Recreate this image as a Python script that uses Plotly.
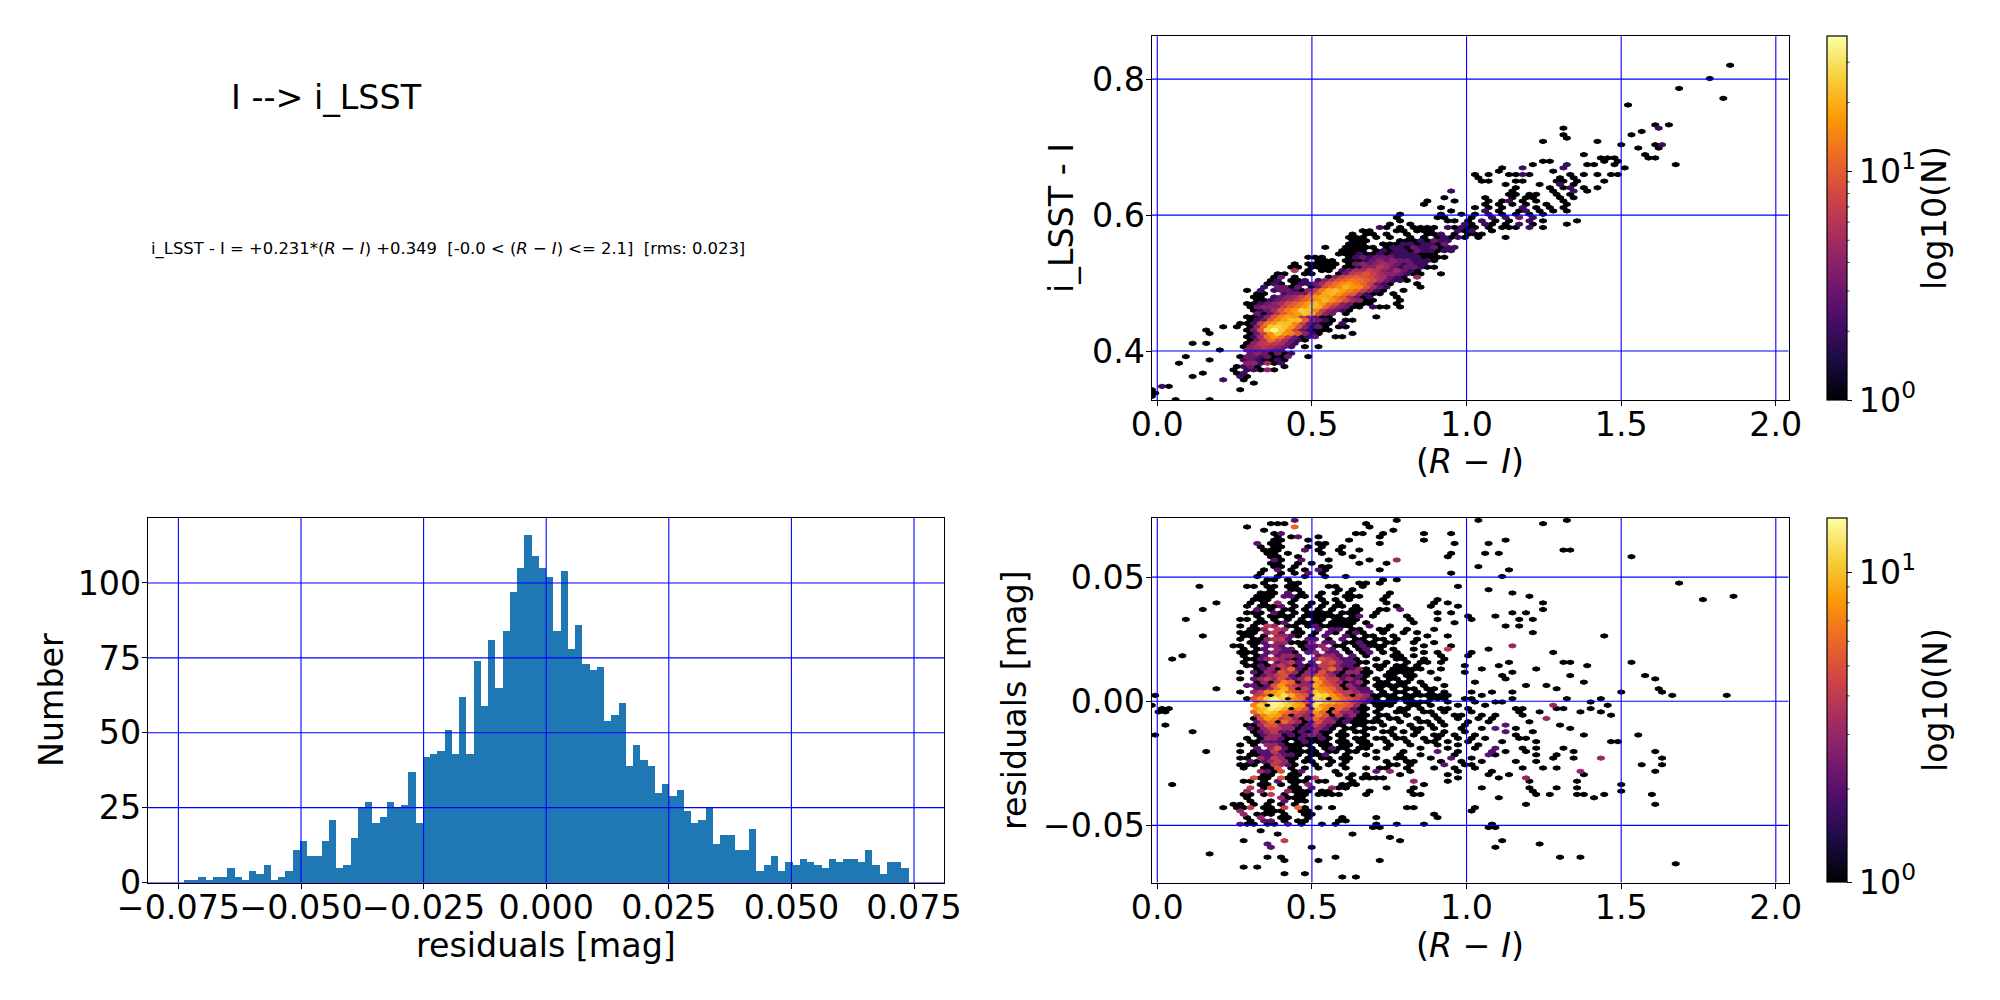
import math
import plotly.colors as pc
import plotly.graph_objects as go

# residual histogram, 100 bins
HIST_LOW = -0.0739
HIST_HIGH = 0.0739
HIST_COUNTS = [
    1, 1, 2, 1, 2, 2, 5, 2, 1, 4, 3, 6, 1, 2, 4, 11, 14, 9, 9, 14,
    21, 5, 6, 15, 25, 27, 20, 22, 27, 25, 26, 37, 20, 42, 43, 44, 51, 43, 62, 43,
    74, 59, 81, 65, 84, 97, 105, 116, 109, 105, 102, 84, 104, 78, 86, 73, 71, 72, 54, 56,
    60, 39, 46, 41, 39, 30, 33, 29, 31, 24, 20, 21, 25, 13, 16, 16, 11, 11, 18, 4,
    6, 9, 4, 7, 6, 8, 7, 6, 5, 8, 7, 8, 8, 7, 11, 6, 3, 7, 7, 5,
]

# hexbin cells: row -> "first_bin:counts" chunks, counts in base 36
BIN_STEP = 0.022
BIN_START_EVEN = -0.0177
BIN_START_ODD = -0.0067

TOP_ROW_ZERO = 0.4113
TOP_ROW_STEP = 0.00487
TOP_MAX = 39
TOP_CELLS = {
    -17: "3:1 8:1", -16: "0:1", -15: "0:1", -14: "0:1 13:1", -13: "1:21", -12: "15:1",
    -11: "10:2 13:1", -10: "6:1 13:21", -9: "7:1 12:12", -8: "12:1 14:22 16:1 17:41",
    -7: "12:123 15:1 19:1", -6: "4:1 14:44 16:2 17:51 19:2", -5: "8:1 13:23211 18:21",
    -4: "5:1 13:13323113 23:1", -3: "14:343131 20:2", -2: "10:1 14:444433",
    -1: "13:1 14:4565432 22:1 24:1", 0: "6:1 8:1 14:14676532",
    1: "14:136c85321", 2: "14:125chc63123 27:11", 3: "8:1 14:137fohe9421 24:1 29:1",
    4: "8:1 14:139pzof73211 26:1", 5: "10:1 12:1 14:14bornh94 23:231 27:11",
    6: "13:1 14:12 16:7dhnme73211 28:2", 7: "14:123 17:9eimma432 26:1 28:11",
    8: "14:11 16:249eig64311 33:1", 9: "15:3136aeink843 28:1",
    10: "15:12359dhpnf74321", 11: "14:134447adgnkb643 29:11 32:211 36:1",
    12: "14:112345 20:8adimhb843 29:2111 36:1", 13: "15:11234 20:57adhlgc854 29:4211 36:1",
    14: "15:11 18:23457bhjida5 30:312 36:1", 15: "15:11 19:2333 23:8bjlhca 30:42 32:11 35:1",
    16: "14:1 16:2 18:233214 24:7dkmieb7 32:42 34:1 37:1", 17: "16:2 18:331 21:3 23:13 25:8cflhf9 32:532 39:1",
    18: "17:121 21:122 24:35 26:9cfheb 32:732 35:1 39:1", 19: "17:12 20:112 24:246 27:9bdca8 33:53 35:221",
    20: "18:13 21:1 26:147 29:9a9 32:86 34:5321 39:5", 21: "18:11 22:11 27:136 30:7975 34:4 35:43211 42:1",
    22: "21:6 23:1 25:11 28:235 31:5764 35:3 36:5321", 23: "20:11 23:11 25:11 28:1124 32:4653 36:2 37:3321 41:1",
    24: "21:1 23:11 25:111 29:134 32:3454 36:32 38:3 39:22", 25: "24:111 28:111234 34:343322 40:21",
    26: "23:111 29:123233 35:322 38:2211 42:11", 27: "27:1112112 34:122 37:22111",
    28: "28:1111 33:12122132 41:2122", 29: "25:1 28:11111 34:122132 40:2312 44:2",
    30: "29:111 34:11122 39:12213", 31: "29:111 36:111213 41:12 43:2",
    32: "29:11 31:1 33:1 35:1 38:1 40:1 42:1 43:2121 48:1 52:1",
    33: "29:1 31:11 34:1 37:1 40:11 42:2 44:1 46:111", 34: "31:11 36:11 39:111 45:212 50:1",
    35: "33:21 36:1 38:1111 43:21211 49:1 51:111 55:2 57:1",
    36: "35:1 38:1 46:21 49:21 52:1 54:2 56:1 61:1", 37: "36:1 43:11 46:1 48:2 50:1 52:1 55:2 57:1 62:1",
    38: "36:1 42:11 47:1 50:2 52:2 54:3 56:2", 39: "36:1 42:1 45:1 47:1 49:2 51:1 53:1 55:1 57:1",
    40: "44:1 49:2 51:1 54:1 55:2 57:1 59:1 61:1", 41: "42:1 47:1 49:1 51:1 54:2 56:1 58:1 60:1",
    42: "40:1 49:1 51:1 53:1 55:1 58:1 61:1", 43: "40:1 44:1 49:1 51:1 52:2 54:1 56:1 60:1", 44: "43:1 49:1 53:1 55:11 60:1 62:1",
    45: "52:11 55:11 59:1 61:1", 46: "44:2 53:1 59:1 62:2 64:1", 47: "53:1 58:1 60:12 63:1 65:1",
    48: "52:1 57:1 60:2 62:1", 49: "48:11 53:11 59:11 62:1 66:1", 50: "48:1 60:1 62:1",
    51: "47:1 49:1 52:11 54:21 61:1 63:1 65:1 67:11", 52: "51:1 59:1", 53: "51:1 54:2 60:2 69:1",
    54: "56:1 61:2 64:11 68:1 77:1", 55: "57:11 66:1 68:1", 56: "66:111 73:11",
    57: "63:1 72:1", 59: "71:1 74:1", 60: "69:1 74:12", 61: "57:1 65:1", 62: "61:1",
    63: "60:1 70:1", 64: "72:1", 65: "60:1 74:2", 66: "74:1 76:1", 72: "70:1",
    74: "84:1", 77: "77:1", 80: "82:1", 84: "85:1",
}

RES_ROW_ZERO = 0.07285
RES_ROW_STEP = -0.00133
RES_MAX = 15
RES_CELLS = {
    0: "21:2 36:1 48:1 61:1", 1: "17:111 31:1 57:1", 2: "14:1 21:6 32:1", 3: "16:1 35:1",
    4: "18:12 30:11 34:1 40:1 44:1", 5: "18:1 20:12 24:1 33:1", 6: "18:11 23:1 29:1 40:1 52:1",
    7: "15:2 17:11 24:11 33:1 44:1 49:1", 8: "16:1 18:11 23:1 25:1 28:1",
    9: "16:11 18:1 22:2 24:1 27:1 30:1 60:11", 10: "17:11 20:1 25:1 28:1 44:1 49:1 51:1",
    11: "17:11 21:1 29:1 43:1 70:1", 12: "18:21 22:2 26:1 32:1 36:3", 13: "17:11 21:1 23:1 30:1 34:1",
    14: "18:11 21:1 25:11 48:1", 15: "16:1 18:2 20:1 22:1 24:21 33:1 52:1", 16: "16:1 19:1 21:1 23:2 25:1 44:1",
    17: "15:1 18:1 22:1 25:1 28:1 51:1", 18: "17:11 20:1 34:1 36:1", 19: "16:1 20:11 30:11 33:1 77:1",
    20: "7:1 14:11 17:11 20:11 26:11 31:1 45:1", 21: "17:1 20:11 27:1 29:1 49:1",
    22: "16:11 18:1 20:2 22:1 25:1 27:1 29:1 35:1 53:1", 23: "15:11 17:1 19:22 21:11 24:1 28:111 34:1 55:1 85:1",
    24: "15:11 17:1 21:1 25:1 27:1 29:1 34:1 42:1 81:1", 25: "9:1 14:1 16:1 18:3 20:1 23:1 25:1 27:1 34:1 41:1 43:1 57:1",
    26: "14:1 16:11 18:12 21:1 23:1 25:1 27:11 30:1 36:1 41:1 45:1", 27: "7:1 15:2 17:1 19:11 22:1 24:1 26:1 29:11 33:11 36:2 57:1",
    28: "14:11 16:1 18:21 21:1 23:111 26:1 28:111 33:1 42:1 44:1 53:1 55:1", 29: "15:1 17:111 20:1 22:111 25:111 29:12 32:1 37:1 50:1 46:1",
    30: "5:1 13:11 16:1 18:1 20:1 22:1 24:11 27:1111 30:1 38:1 42:1 47:1 54:1 56:1", 31: "15:11 18:12 21:111 24:1 26:1111 31:1 38:1 44:1",
    32: "13:1 15:1 17:43 20:11 23:12 25:111 28:11 32:2 35:1 52:1 54:1", 33: "14:11 16:3 18:4 19:3 21:1 24:2 26:22 29:11 33:11 37:1 41:1",
    34: "13:11 15:1 17:3 18:4 19:2 21:11 24:1 26:21 29:121 34:1 37:1 39:1 56:1", 35: "7:1 13:11 16:1 18:332 21:1 23:1 25:2 28:21 31:11 35:1 40:1 43:1 66:1",
    36: "13:1 15:11 17:344 20:2 23:22 26:1 28:2 30:11 33:11 36:1 39:1", 37: "14:11 16:2 18:33 20:111 23:3 25:22 28:112 31:11 34:11 38:1 41:1",
    38: "12:11 15:1 17:23 19:2 22:12 24:23 27:11 30:121 33:11 40:1 44:1 53:3", 39: "13:1 15:12 18:32 20:2 22:12 25:32 28:1 30:12 33:1 35:1 38:1 43:4 49:1",
    40: "13:11 15:1 17:2 18:3 19:22 21:1 23:23 26:22 29:1 31:12 34:1 36:1 40:1 42:1 47:1 59:1", 41: "4:1 13:1 15:12 18:2 19:33 21:2 24:23 26:32 29:2 31:1 35:11 38:1 42:1 46:1",
    42: "3:1 14:11 16:2 17:3 18:4 19:3 20:2 21:1 22:2 24:35 26:43 28:22 30:1 33:1 36:11 40:1 43:1",
    43: "13:1 15:1 16:1 18:23 20:4 21:2 23:2 25:45 27:32 29:21 31:1 34:1 37:1 39:11 42:1 52:1 60:11 70:1",
    44: "14:1 15:1213431212443221 33:11 36:11 39:1 46:1 51:1 64:1",
    45: "15:12314621324631231 33:1 35:111 38:11 42:1 48:1 56:1",
    46: "13:1 15:21325431325321331 32:1 35:111 38:1 41:1 46:1 53:1",
    47: "15:12345213354312121 34:11 37:11 51:1 61:1 72:1",
    48: "13:1 15:23435323596442321 33:1 35:11 38:1 42:1 52:1 74:1",
    49: "15:13147613285431231 33:11 36:11 39:1 47:1 63:1",
    50: "14:2 15:21258543396541321 33:111 36:11 40:1 43:1 55:1 58:1",
    51: "9:1 15:22369514387641322 33:1 35:1 37:11 40:11 59:1 74:1",
    52: "13:1 15:3478a6543a8754432 32:2 34:1 36:11 39:1 41:1 43:1 47:1 50:1 53:1 69:1 75:1",
    53: "0:1 15:4519c9652cb864143 32:11 34:11 37:111 40:1111 48:1 76:1 84:1",
    54: "14:1 15:57bdb1762ba186543 32:21 35:111 38:1 41:111 46:11 53:1 61:1 66:1",
    55: "15:68eeca853da976432 32:11 34:11 37:1111 43:1 47:1 50:11 64:1",
    56: "0:1 15:7b1edb982c8766531 33:11 35:1 38:11 41:1 45:1 49:1 59:3 67:1",
    57: "1:11 15:8adc91752a7164211 33:1 36:11 39:1 42:11 46:1 53:11 59:11 64:1",
    58: "1:11 15:69ba7654386153321 33:1 36:11 40:11 43:1 47:1 54:1 57:1 63:1 66:1",
    59: "15:47985143275142311 33:11 37:1 41:1 44:11 48:1 50:1 54:1 67:1",
    60: "15:15874531364321211 33:1 35:11 39:1 42:1 45:1 48:1 50:1 58:3",
    61: "15:24616431253312111 32:11 36:1 39:11 42:1 46:1 49:1 55:1",
    62: "2:1 14:1 15:13553321243211011 34:1 38:1 41:1 43:1 46:1 52:2 60:1",
    63: "14:2 15:13443312232101101 32:1 35:1 38:11 41:1 45:1 48:1 50:2 53:1 61:1",
    64: "6:1 15:12342212131101011 34:11 37:1 39:1 43:1 46:1 52:2 56:1",
    65: "0:1 15:12331212321011001 35:1 38:1 41:11 44:1 47:1 53:1 63:1 71:1",
    66: "14:1 15:01332112112101011 33:11 36:11 40:1 42:1 45:1 47:1 49:1 54:11",
    67: "14:1 15:12221012111011011 34:1 37:1 40:11 43:1 46:1 51:1 56:1 67:11",
    68: "13:1 15:10332111101101101 32:1 35:1 38:1 42:1 45:1 48:1",
    69: "15:20352110101211011 34:1 39:1 43:1 47:1 50:2 54:1 56:1 60:1",
    70: "8:1 13:1 15:12242111110110110 33:1 37:1 42:2 45:1 50:2 52:1 55:1 62:1 74:1",
    71: "14:1 15:12232210112001001 36:1 39:1 44:1 49:2 50:1 56:1 59:1",
    72: "13:1 14:1 15:03243110101101100 33:1 36:11 41:1 44:2 47:1 59:1 62:1 66:3 75:1",
    73: "14:2 15:12343101100101000 34:1 37:11 42:1 45:1 48:1 53:1 56:1",
    74: "13:11 15:10143210010101000 35:11 38:1 43:2 46:11 72:1 75:1",
    75: "13:1 16:1 17:1 18:5 20:1 22:1 24:1 28:1 31:1 33:11 37:1 41:1 44:1 47:1 54:1 57:1 59:1",
    76: "16:3 17:2 18:1 19:5 21:1 22:2 27:1 33:2 35:3 38:1 45:1 50:1 63:3 74:1",
    77: "16:11 17:1 20:11 27:1 29:1 31:1 36:1 43:1 49:1 52:1 63:1",
    78: "15:5 16:1 17:1 19:5 20:11 23:1 24:4 29:1 31:111 34:1 45:1 51:1 55:3",
    79: "13:1 14:1 16:1 18:2 20:1 21:1 22:1 24:11 29:1 38:3 43:1 55:1 62:1",
    80: "3:1 16:1 17:1 19:1 21:1 23:3 28:111 40:1 69:1",
    81: "14:4 16:1 17:5 20:1 21:1 23:2 26:3 27:11 28:1 34:1 38:1 48:1 55:1 59:1 62:1",
    82: "14:3 16:3 20:3 21:1 22:1 23:1 25:11 32:1 38:1 56:1 69:1",
    83: "13:1 14:1 16:1 17:4 19:1 21:1 22:1 24:1 25:1 26:1 27:1 31:1 38:1 39:1 56:1 58:1 62:1 63:1 66:1 73:1",
    84: "14:1 19:3 20:1 21:11 22:1 51:1 65:1", 85: "14:1 17:1 19:2 21:11", 86: "12:11 15:1 17:1 19:1 21:1 55:1 74:1",
    87: "10:1 12:1 13:1 14:4 16:1 17:1 19:4 21:6 22:1 24:1 26:1 37:1 38:1 47:1",
    88: "13:3 17:1 18:1 19:1 22:1 23:1 47:1", 89: "13:3 15:1 16:1 17:1 19:1 22:1 23:1 41:1",
    90: "14:1 16:3 19:11 23:1 28:1 33:1 42:1", 91: "14:1 16:2 17:2 19:1 21:11 27:1 28:1",
    92: "13:2 14:1 15:1 17:1 18:1 20:2 22:1 25:1 27:1 33:1 36:1 40:1 50:1", 93: "32:1 33:1 49:1 50:1",
    94: "16:1", 95: "18:1 29:1", 96: "35:1", 97: "13:1 19:4 36:1 51:1", 98: "17:2 57:1", 99: "17:2 23:1 50:1",
    101: "8:1", 102: "17:1 19:1 27:1 60:1 63:1", 103: "19:1 24:1 33:1", 104: "77:1", 105: "13:1 15:1",
    107: "19:1 22:1", 108: "28:1 30:1",
}

INK = "#000000"
GRID_BLUE = "#0000ff"
FONT = "DejaVu Sans"
TICK_SIZE = 33.3

RI_TICKS = [0.0, 0.5, 1.0, 1.5, 2.0]
RI_LABELS = ["0.0", "0.5", "1.0", "1.5", "2.0"]
OFFSET_TICKS = [0.4, 0.6, 0.8]
OFFSET_LABELS = ["0.4", "0.6", "0.8"]
RES_TICKS = [-0.05, 0.0, 0.05]
RES_LABELS = ["−0.05", "0.00", "0.05"]
HIST_X_TICKS = [-0.075, -0.05, -0.025, 0.0, 0.025, 0.05, 0.075]
HIST_X_LABELS = ["−0.075", "−0.050", "−0.025", "0.000", "0.025", "0.050", "0.075"]
HIST_Y_TICKS = [0, 25, 50, 75, 100]
COLORBAR_MINOR = [2, 3, 4, 5, 6, 7, 8, 9, 20, 30]


def px_x(x):
    return (x - 8) / 2000


def px_y(y):
    return 1 - (y - 8) / 1000


def cells_to_points(cells, row_zero, row_step):
    xs, ys, ns = [], [], []
    for row, text in cells.items():
        start = BIN_START_EVEN if row % 2 == 0 else BIN_START_ODD
        for chunk in text.split():
            first, counts = chunk.split(":")
            for i, ch in enumerate(counts):
                if int(ch, 36) > 0:
                    xs.append(start + BIN_STEP * (int(first) + i))
                    ys.append(row_zero + row_step * row)
                    ns.append(int(ch, 36))
    return xs, ys, ns


def add_hexbin(fig, cells, row_zero, row_step, xaxis, yaxis, n_max, bar_y):
    xs, ys, ns = cells_to_points(cells, row_zero, row_step)
    # colorbar carrier, tiny points under the hexagons
    fig.add_trace(go.Scatter(
        x=xs, y=ys, xaxis=xaxis, yaxis=yaxis, mode="markers", showlegend=False,
        marker=dict(
            size=1,
            color=[math.log10(n) for n in ns],
            colorscale="Inferno",
            cmin=0,
            cmax=math.log10(n_max),
            colorbar=dict(
                x=px_x(1826.5), xanchor="left", xpad=0,
                y=bar_y, yanchor="middle", ypad=0,
                len=0.364, lenmode="fraction", thickness=19.5,
                outlinewidth=1.2, outlinecolor=INK,
                ticks="outside", ticklen=5, tickcolor=INK,
                tickvals=[0, 1],
                ticktext=["10<sup>0</sup>", "10<sup>1</sup>"],
                tickfont=dict(family=FONT, size=TICK_SIZE, color=INK),
            ),
        ),
    ))
    # hexagons are wider than tall here, which marker symbols cannot do
    half_w = BIN_STEP / 2
    third_h = abs(row_step) / 3
    for n in sorted(set(ns)):
        px, py = [], []
        for x, y, count in zip(xs, ys, ns):
            if count == n:
                px += [x - half_w, x - half_w, x, x + half_w, x + half_w, x, x - half_w, None]
                py += [y - third_h, y + third_h, y + 2 * third_h, y + third_h, y - third_h, y - 2 * third_h, y - third_h, None]
        color = pc.sample_colorscale("Inferno", [math.log10(n) / math.log10(n_max)])[0]
        fig.add_trace(go.Scatter(
            x=px, y=py, xaxis=xaxis, yaxis=yaxis, mode="lines", fill="toself", showlegend=False,
            fillcolor=color, line=dict(color=color, width=1), hoverinfo="skip",
        ))
    # colorbar minor log ticks
    bar_bottom = bar_y - 0.182
    for n in COLORBAR_MINOR:
        if n < n_max:
            tick_y = bar_bottom + 0.364 * math.log10(n) / math.log10(n_max)
            fig.add_shape(type="line", xref="paper", yref="paper", x0=px_x(1846), x1=px_x(1849.5),
                          y0=tick_y, y1=tick_y, line=dict(color=INK, width=0.8))


def axis_style(domain, ticks, labels, value_range, anchor, standoff):
    return dict(
        domain=domain,
        anchor=anchor,
        range=value_range,
        automargin=False,
        tickmode="array",
        tickvals=ticks,
        ticktext=labels,
        tickangle=0,
        ticks="outside",
        ticklen=5,
        tickcolor=INK,
        tickfont=dict(family=FONT, size=TICK_SIZE, color=INK),
        ticklabelstandoff=standoff,
        showgrid=False,
        zeroline=False,
        showline=True,
        mirror=True,
        linecolor=INK,
        linewidth=1.2,
    )


def add_label(fig, text, x, y, size=TICK_SIZE, angle=0, anchor="center"):
    fig.add_annotation(text=text, xref="paper", yref="paper", x=px_x(x), y=px_y(y),
                       xanchor=anchor, yanchor="middle", showarrow=False, textangle=angle,
                       font=dict(family=FONT, size=size, color=INK))


hist_width = (HIST_HIGH - HIST_LOW) / len(HIST_COUNTS)
hist_x = [HIST_LOW + hist_width * (i + 0.5) for i in range(len(HIST_COUNTS))]

fig = go.Figure()
add_hexbin(fig, TOP_CELLS, TOP_ROW_ZERO, TOP_ROW_STEP, "x", "y", TOP_MAX, px_y(218.2))
add_hexbin(fig, RES_CELLS, RES_ROW_ZERO, RES_ROW_STEP, "x3", "y3", RES_MAX, px_y(700.2))
fig.add_trace(go.Bar(x=hist_x, y=HIST_COUNTS, width=hist_width, xaxis="x2", yaxis="y2",
                     marker=dict(color="#1f77b4", line=dict(width=0)), showlegend=False))

right_domain = [px_x(1151.7), px_x(1788.5)]
left_domain = [px_x(148), px_x(944.4)]
upper_domain = [px_y(400), px_y(36.3)]
lower_domain = [px_y(882.5), px_y(518)]

fig.update_layout(
    width=2000,
    height=1000,
    margin=dict(l=0, r=0, t=0, b=0),
    paper_bgcolor="white",
    plot_bgcolor="white",
    bargap=0,
    xaxis=axis_style(right_domain, RI_TICKS, RI_LABELS, [-0.018, 2.041], "y", -10),
    yaxis=axis_style(upper_domain, OFFSET_TICKS, OFFSET_LABELS, [0.328, 0.863], "x", -6),
    xaxis2=axis_style(left_domain, HIST_X_TICKS, HIST_X_LABELS, [-0.0812, 0.0812], "y2", -10),
    yaxis2=axis_style(lower_domain, HIST_Y_TICKS, [str(t) for t in HIST_Y_TICKS], [0, 121.7], "x2", -6),
    xaxis3=axis_style(right_domain, RI_TICKS, RI_LABELS, [-0.018, 2.041], "y3", -10),
    yaxis3=axis_style(lower_domain, RES_TICKS, RES_LABELS, [-0.073, 0.0738], "x3", -6),
)

# matplotlib draws the grid over the marks, so shapes rather than axis gridlines
grids = [("x", "y", RI_TICKS, OFFSET_TICKS), ("x2", "y2", HIST_X_TICKS, HIST_Y_TICKS), ("x3", "y3", RI_TICKS, RES_TICKS)]
for xref, yref, xticks, yticks in grids:
    for t in xticks:
        fig.add_shape(type="line", layer="above", xref=xref, yref=yref + " domain", x0=t, x1=t, y0=0, y1=1,
                      line=dict(color=GRID_BLUE, width=1.1))
    for t in yticks:
        fig.add_shape(type="line", layer="above", xref=xref + " domain", yref=yref, x0=0, x1=1, y0=t, y1=t,
                      line=dict(color=GRID_BLUE, width=1.1))

RI_TITLE = "(<i>R</i> − <i>I</i>)"
add_label(fig, "I --> i_LSST", 229, 98, anchor="left")
add_label(fig, "i_LSST - I = +0.231*(<i>R</i> − <i>I</i>) +0.349  [-0.0 &lt; (<i>R</i> − <i>I</i>) &lt;= 2.1]  [rms: 0.023]",
          149, 249, size=16.4, anchor="left")
add_label(fig, RI_TITLE, 1470, 462)
add_label(fig, RI_TITLE, 1470, 945)
add_label(fig, "residuals [mag]", 546, 945)
add_label(fig, "i_LSST - I", 1062, 218, angle=-90)
add_label(fig, "residuals [mag]", 1014, 700, angle=-90)
add_label(fig, "Number", 51, 700, angle=-90)
add_label(fig, "log10(N)", 1935, 218, angle=-90)
add_label(fig, "log10(N)", 1935, 700, angle=-90)

fig.write_html("out.html")
